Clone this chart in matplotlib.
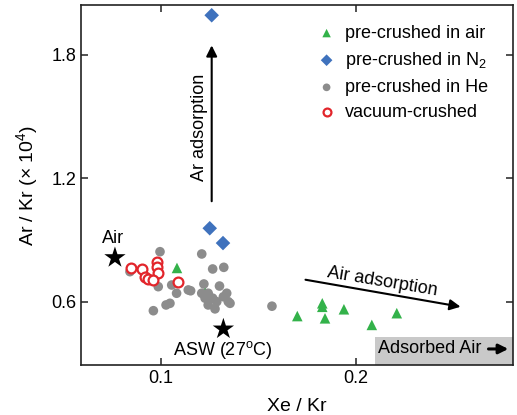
import numpy as np
import matplotlib
matplotlib.use('Agg')
import matplotlib.pyplot as plt
from matplotlib.patches import Rectangle

plt.rcParams['font.family'] = ['Liberation Sans', 'DejaVu Sans']
plt.rcParams['mathtext.fontset'] = 'custom'
plt.rcParams['mathtext.rm'] = 'Liberation Sans'
plt.rcParams['mathtext.default'] = 'regular'

# pre-crushed in air
air_x = [0.1082, 0.1226, 0.1699, 0.1827, 0.1827, 0.1841, 0.1938, 0.2081, 0.2209]
air_y = [0.764, 0.647, 0.530, 0.575, 0.592, 0.519, 0.563, 0.487, 0.544]

# pre-crushed in N2
n2_x = [0.126, 0.125, 0.1318]
n2_y = [1.993, 0.957, 0.885]

# pre-crushed in He
he_x = [0.0995, 0.0841, 0.0986, 0.1055, 0.1080, 0.1046, 0.1026, 0.0961, 0.1140,
        0.1209, 0.1265, 0.1322, 0.1220, 0.1300, 0.1152, 0.1242, 0.1265, 0.1286,
        0.1320, 0.1345, 0.1242, 0.1277, 0.1226, 0.1354, 0.1209, 0.1337, 0.1569]
he_y = [0.843, 0.746, 0.673, 0.681, 0.641, 0.592, 0.584, 0.556, 0.657,
        0.832, 0.759, 0.767, 0.686, 0.676, 0.653, 0.641, 0.617, 0.600,
        0.624, 0.600, 0.584, 0.565, 0.617, 0.592, 0.641, 0.641, 0.578]

# vacuum-crushed
vac_x = [0.0846, 0.0903, 0.0978, 0.0981, 0.0983, 0.0920, 0.0935, 0.0957, 0.1089]
vac_y = [0.762, 0.757, 0.794, 0.767, 0.741, 0.721, 0.712, 0.705, 0.694]

# reference end members
air_ref = (0.0764, 0.814)
asw_ref = (0.132, 0.467)

fig = plt.figure(figsize=(5.17, 4.15), dpi=100)
ax = fig.add_axes([0.1567, 0.1205, 0.8356, 0.8675])

ax.add_patch(Rectangle((0.2097, 0.25), 0.1, 0.428 - 0.25, facecolor='#c9c9c9',
                       edgecolor='none', zorder=1))

ax.scatter(he_x, he_y, s=48, marker='o', color='#8c8c8c', edgecolors='none',
           zorder=3, label='pre-crushed in He')
ax.scatter(air_x, air_y, s=58, marker='^', color='#33b24a', edgecolors='none',
           zorder=2, label='pre-crushed in air')
ax.scatter(n2_x, n2_y, s=55, marker='D', color='#3f72bd', edgecolors='none',
           zorder=3, label='pre-crushed in N$_2$')
ax.scatter(vac_x, vac_y, s=50, marker='o', facecolors='white', edgecolors='#e2252b',
           linewidths=1.6, zorder=4, label='vacuum-crushed')

ax.scatter(*air_ref, s=260, marker='*', color='black', edgecolors='none', zorder=5)
ax.scatter(*asw_ref, s=260, marker='*', color='black', edgecolors='none', zorder=5)
ax.text(0.0754, 0.909, 'Air', fontsize=13, ha='center', va='center')
ax.text(0.1318, 0.365, 'ASW (27$^o$C)', fontsize=13, ha='center', va='center')

# arrows
ax.annotate('', xy=(0.126, 1.86), xytext=(0.126, 1.075),
            arrowprops=dict(arrowstyle='-|>', color='black', lw=1.5, mutation_scale=16))
ax.text(0.1195, 1.45, 'Ar adsorption', fontsize=13, rotation=90, ha='center', va='center')

ax.annotate('', xy=(0.255, 0.573), xytext=(0.1727, 0.709),
            arrowprops=dict(arrowstyle='-|>', color='black', lw=1.5, mutation_scale=16))
ax.text(0.2135, 0.695, 'Air adsorption', fontsize=13, rotation=-9.5, ha='center', va='center')

ax.text(0.2113, 0.370, 'Adsorbed Air', fontsize=13, ha='left', va='center', zorder=2)
ax.annotate('', xy=(0.2795, 0.370), xytext=(0.2665, 0.370),
            arrowprops=dict(arrowstyle='-|>', color='black', lw=2.2, mutation_scale=14),
            zorder=2)

ax.set_xlim(0.059, 0.2805)
ax.set_ylim(0.292, 2.043)
ax.set_xticks([0.1, 0.2])
ax.set_yticks([0.6, 1.2, 1.8])
ax.tick_params(direction='in', top=True, right=True, length=5, width=1.1,
               labelsize=13, color='#222222')
for sp in ax.spines.values():
    sp.set_linewidth(1.2)
    sp.set_color('#222222')

ax.set_xlabel('Xe / Kr', fontsize=14, labelpad=8)
ax.set_ylabel('Ar / Kr (× 10$^4$)', fontsize=14, labelpad=8)

handles, labels = ax.get_legend_handles_labels()
order = [1, 2, 0, 3]
ax.legend([handles[i] for i in order], [labels[i] for i in order],
          loc='upper right', bbox_to_anchor=(0.975, 0.985), frameon=False,
          fontsize=13, handletextpad=0.0, labelspacing=0.45, markerscale=0.8,
          borderpad=0.3)

fig.savefig('out.png', dpi=100)
